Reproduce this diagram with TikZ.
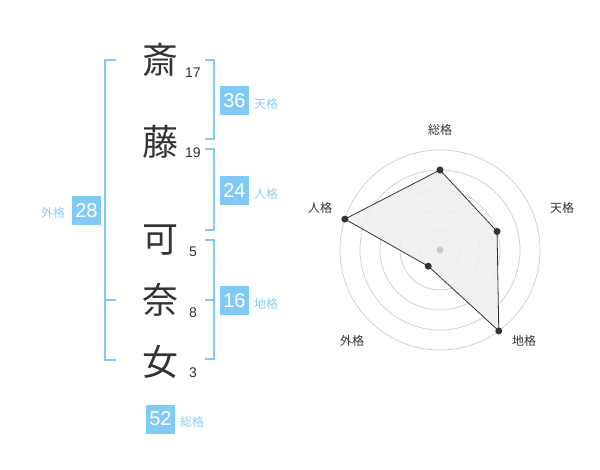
\documentclass[tikz,border=0pt]{standalone}
\usepackage{fontspec}
\setmainfont{Liberation Sans}
\newfontfamily\cjk{Noto Sans CJK JP}
\definecolor{bluebox}{HTML}{82CAF6}
\definecolor{bluetxt}{HTML}{8ACDF2}
\definecolor{ink}{HTML}{333333}
\definecolor{ring}{HTML}{CCCCCC}
\definecolor{area}{HTML}{EFEFEF}
\begin{document}
\begin{tikzpicture}[x=1pt,y=-1pt,
  kanji/.style={font=\cjk\fontsize{36}{36}\selectfont,text=ink,inner sep=0pt},
  stroke/.style={font=\fontsize{14}{14}\selectfont,text=ink,inner sep=0pt},
  valbox/.style={fill=bluebox,text=white,minimum width=29pt,minimum height=29pt,inner sep=0pt,font=\fontsize{20}{20}\selectfont},
  lbl/.style={font=\cjk\fontsize{12}{12}\selectfont,text=bluetxt,inner sep=0pt},
  brk/.style={draw=bluebox,line width=2pt},
  rlbl/.style={font=\cjk\fontsize{12}{12}\selectfont,text=ink,inner sep=0pt},
  ringc/.style={draw=ring,line width=0.7pt},
  pt/.style={circle,fill=ink,minimum size=7pt,inner sep=0pt}]
\useasboundingbox (0,0) rectangle (600,470);
% kanji
\node[kanji] (k1) at (160,60) {斎};
\node[kanji] (k2) at (160,142) {藤};
\node[kanji] (k3) at (160,240) {可};
\node[kanji] (k4) at (160,300) {奈};
\node[kanji] (k5) at (160,362) {女};
\node[stroke] (n1) at (193,73) {17};
\node[stroke] (n2) at (193,153) {19};
\node[stroke] (n3) at (193,252) {5};
\node[stroke] (n4) at (193,313) {8};
\node[stroke] (n5) at (193,373) {3};
% brackets
\coordinate (lt) at (116,60); \coordinate (lb) at (116,360); \coordinate (lm) at (116,300);
\draw[brk] (lt) -- (105,60) -- (105,360) -- (lb);
\draw[brk] (105,300) -- (lm);
\coordinate (at) at (205,60); \coordinate (ab) at (205,139);
\draw[brk] (at) -- (214,60) -- (214,139) -- (ab);
\coordinate (bt) at (205,149); \coordinate (bb) at (205,230);
\draw[brk] (bt) -- (214,149) -- (214,230) -- (bb);
\coordinate (ct) at (205,240); \coordinate (cb) at (205,359); \coordinate (cm) at (205,300);
\draw[brk] (ct) -- (214,240) -- (214,359) -- (cb);
\draw[brk] (cm) -- (214,300);
% value boxes
\node[valbox] (v36) at (234.5,100.5) {36};
\node[lbl] (l36) at (266,104) {天格};
\node[valbox] (v24) at (234.5,190.5) {24};
\node[lbl] (l24) at (266,194) {人格};
\node[valbox] (v28) at (86.5,210.5) {28};
\node[lbl] (l28) at (53,213) {外格};
\node[valbox] (v16) at (234.5,300.5) {16};
\node[lbl] (l16) at (266,304) {地格};
\node[valbox] (v52) at (160.5,419) {52};
\node[lbl] (l52) at (192,422) {総格};
% radar
\coordinate (c) at (440,250);
\foreach \r in {20,40,60,80,100} \draw[ringc] (c) circle (\r);
\coordinate (p1) at (440,170);
\coordinate (p2) at (497.06,231.46);
\coordinate (p3) at (498.78,330.90);
\coordinate (p4) at (428.24,266.18);
\coordinate (p5) at (344.89,219.10);
\draw[fill=area,fill opacity=0.85,draw=ink,line width=0.8pt] (p1) -- (p2) -- (p3) -- (p4) -- (p5) -- cycle;
\node[circle,fill=ring,minimum size=7pt,inner sep=0pt] (cd) at (c) {};
\node[pt] (d1) at (p1) {};
\node[pt] (d2) at (p2) {};
\node[pt] (d3) at (p3) {};
\node[pt] (d4) at (p4) {};
\node[pt] (d5) at (p5) {};
\node[rlbl] (r1) at (440,130) {総格};
\node[rlbl] (r2) at (562,208) {天格};
\node[rlbl] (r3) at (524,341) {地格};
\node[rlbl] (r4) at (352,341) {外格};
\node[rlbl] (r5) at (320,208) {人格};
\end{tikzpicture}
\end{document}
